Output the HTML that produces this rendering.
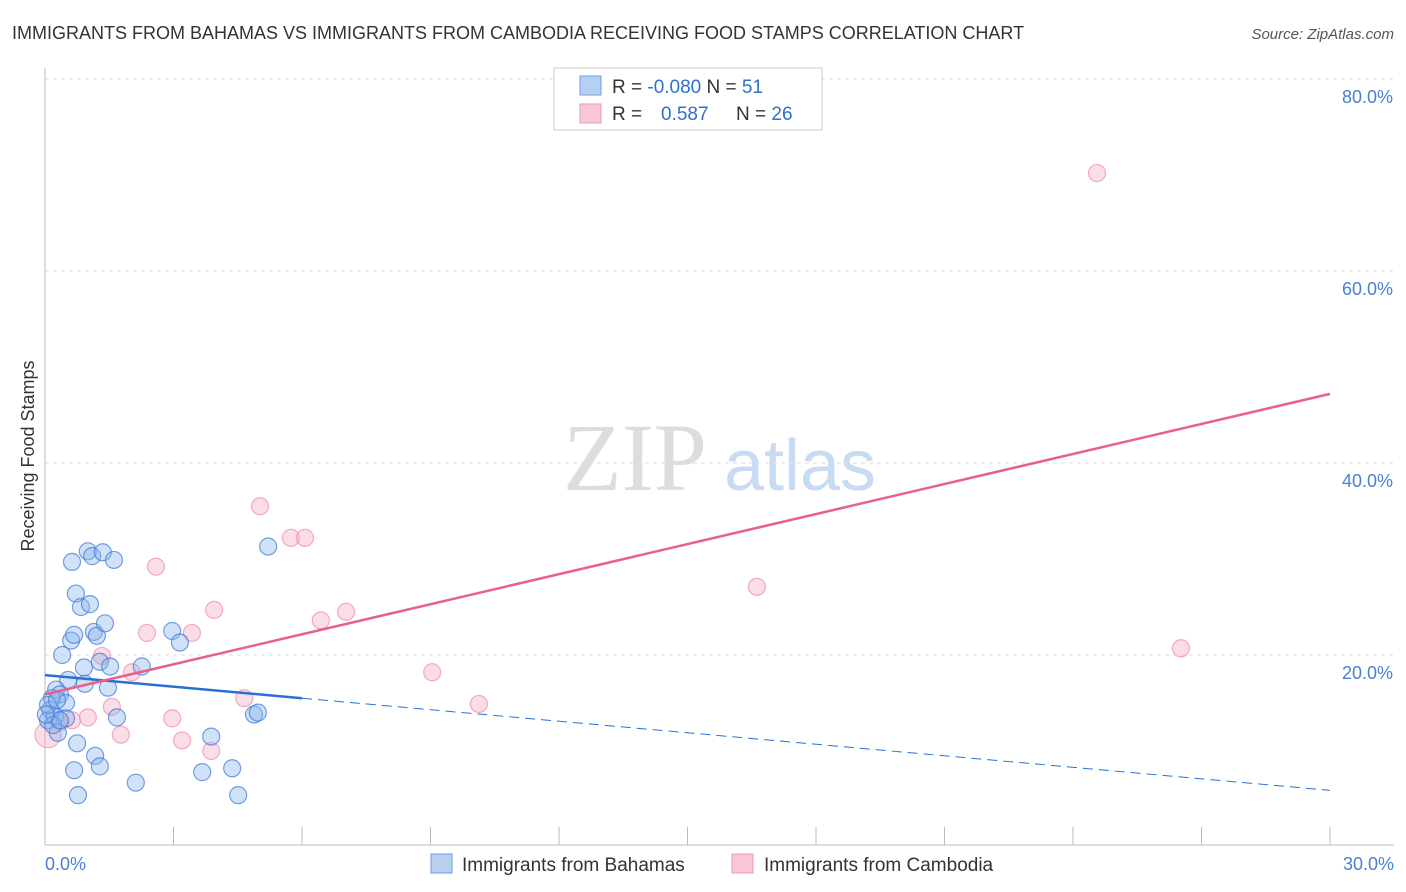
<!DOCTYPE html>
<html><head><meta charset="utf-8"><style>
body{margin:0;background:#fff;font-family:"Liberation Sans",sans-serif;}
svg{display:block}
</style></head><body>
<svg width="1406" height="892">
<text x="12" y="39" font-size="18" fill="#333">IMMIGRANTS FROM BAHAMAS VS IMMIGRANTS FROM CAMBODIA RECEIVING FOOD STAMPS CORRELATION CHART</text>
<text x="1394" y="39" font-size="15" fill="#555" font-style="italic" text-anchor="end">Source: ZipAtlas.com</text>
<text x="635" y="490" font-size="96" fill="#ddd" font-family="Liberation Serif,serif" text-anchor="middle">ZIP</text>
<text x="800" y="490" font-size="72" fill="#c9daf3" text-anchor="middle">atlas</text>
<g id="grid"></g><g id="axes"></g><g id="pts"></g><g id="lines"></g>
<text transform="translate(34,456) rotate(-90)" font-size="18" fill="#333" text-anchor="middle">Receiving Food Stamps</text>
<text x="45" y="870" font-size="18" fill="#4a7fd4">0.0%</text>
<text x="1394" y="870" font-size="18" fill="#4a7fd4" text-anchor="end">30.0%</text>
<g>
<rect x="554" y="68" width="268" height="62" fill="#fff" stroke="#ccc"/>
<rect x="580" y="76" width="21" height="19" fill="#b7d0f2" stroke="#6f9ee0"/>
<rect x="580" y="104" width="21" height="19" fill="#f9c6d5" stroke="#ec9ab3"/>
<text x="612" y="93" font-size="19" fill="#333">R = <tspan fill="#2f6fd0">-0.080</tspan>   N = <tspan fill="#2f6fd0">51</tspan></text>
<text x="612" y="120" font-size="19" fill="#333">R =   <tspan fill="#2f6fd0" x="661">0.587</tspan><tspan x="736">N = </tspan><tspan fill="#2f6fd0">26</tspan></text>
</g>
<g>
<rect x="431" y="854" width="21" height="19" fill="#b7d0f2" stroke="#6f9ee0"/>
<text x="462" y="871" font-size="19" fill="#333">Immigrants from Bahamas</text>
<rect x="732" y="854" width="21" height="19" fill="#f9c6d5" stroke="#ec9ab3"/>
<text x="764" y="871" font-size="19" fill="#333">Immigrants from Cambodia</text>
</g>
</svg>
<script>
const yTicks=[20,40,60,80];
const xTicks=[0,3,6,9,12,15,18,21,24,27,30];
const bahamasX=[0.63,1.00,1.10,1.35,1.61,5.21,0.72,0.84,1.05,0.61,0.68,1.14,1.21,1.40,0.40,1.28,1.52,0.91,2.26,2.97,3.15,0.54,0.93,1.47,0.26,0.35,0.49,0.16,0.12,0.07,0.23,0.49,1.68,0.30,4.88,4.97,0.75,1.17,3.88,0.68,1.28,2.12,3.67,4.37,0.77,4.51,0.07,0.19,0.35,0.28,0.02];
const bahamasY=[29.7,30.8,30.3,30.7,29.9,31.3,26.4,25.0,25.3,21.5,22.1,22.4,22.0,23.3,20.0,19.3,18.8,18.7,18.8,22.5,21.3,17.4,17.0,16.6,16.4,15.9,15.0,15.5,14.3,13.2,13.6,13.4,13.5,11.9,13.8,14.0,10.8,9.5,11.5,8.0,8.4,6.7,7.8,8.2,5.4,5.4,14.8,12.7,13.2,15.3,13.8];
const cambodiaX=[24.56,5.02,5.74,6.07,2.59,16.62,3.95,6.44,7.03,2.38,3.43,26.52,1.33,2.03,9.04,4.65,10.13,1.56,1.00,2.97,0.63,1.77,3.20,3.88,0.35,0.07];
const cambodiaY=[70.2,35.5,32.2,32.2,29.2,27.1,24.7,23.6,24.5,22.3,22.3,20.7,19.9,18.2,18.2,15.5,14.9,14.6,13.5,13.4,13.2,11.7,11.1,10.0,13.0,11.7];
const bahamasTrend=[17.9,5.9];
const bahamasSolidEnd=6.0;
const cambodiaTrend=[15.9,47.2];
const NS='http://www.w3.org/2000/svg';
const X=v=>45+v*(1285/30);
const Y=v=>847-v*9.6;
function mk(p,t,a){const e=document.createElementNS(NS,t);for(const k in a)e.setAttribute(k,a[k]);document.getElementById(p).appendChild(e);return e;}
yTicks.forEach(t=>{
 const l=mk('grid','line',{x1:45,x2:1394,y1:Y(t),y2:Y(t),stroke:'#ddd','stroke-dasharray':'4,4'});
 
 
 const tx=mk('grid','text',{x:1393,y:Y(t)+24,'font-size':18,fill:'#4a7fd4','text-anchor':'end'});
 tx.textContent=t.toFixed(1)+'%';
 
 
});
mk('axes','line',{x1:45,x2:45,y1:68,y2:845,stroke:'#bbb'});
mk('axes','line',{x1:45,x2:1394,y1:845,y2:845,stroke:'#bbb'});
xTicks.forEach(t=>{
 const l=mk('axes','line',{x1:X(t),x2:X(t),y1:827,y2:845,stroke:'#bbb'});
 
 
});
cambodiaX.forEach((v,i)=>{
 const c=mk('pts','circle',{cx:X(v),cy:Y(cambodiaY[i]),r:(i==25?13:8.5),fill:'rgba(246,170,195,0.4)',stroke:'rgba(236,140,170,0.7)','stroke-width':1.2});
 
 
});
bahamasX.forEach((v,i)=>{
 const c=mk('pts','circle',{cx:X(v),cy:Y(bahamasY[i]),r:8.5,fill:'rgba(140,180,235,0.4)',stroke:'rgba(60,120,215,0.7)','stroke-width':1.2});
 
 
});
const by=x=>bahamasTrend[0]+(bahamasTrend[1]-bahamasTrend[0])*x/30;
let l1=mk('lines','line',{x1:X(0),y1:Y(by(0)),x2:X(bahamasSolidEnd),y2:Y(by(bahamasSolidEnd)),stroke:'#2a6fd6','stroke-width':2.5});


let l2=mk('lines','line',{x1:X(bahamasSolidEnd),y1:Y(by(bahamasSolidEnd)),x2:X(30),y2:Y(by(30)),stroke:'#2a6fd6','stroke-width':1,'stroke-dasharray':'10,6'});


let l3=mk('lines','line',{x1:X(0),y1:Y(cambodiaTrend[0]),x2:X(30),y2:Y(cambodiaTrend[1]),stroke:'#e8608c','stroke-width':2.5});


</script>
</body></html>
